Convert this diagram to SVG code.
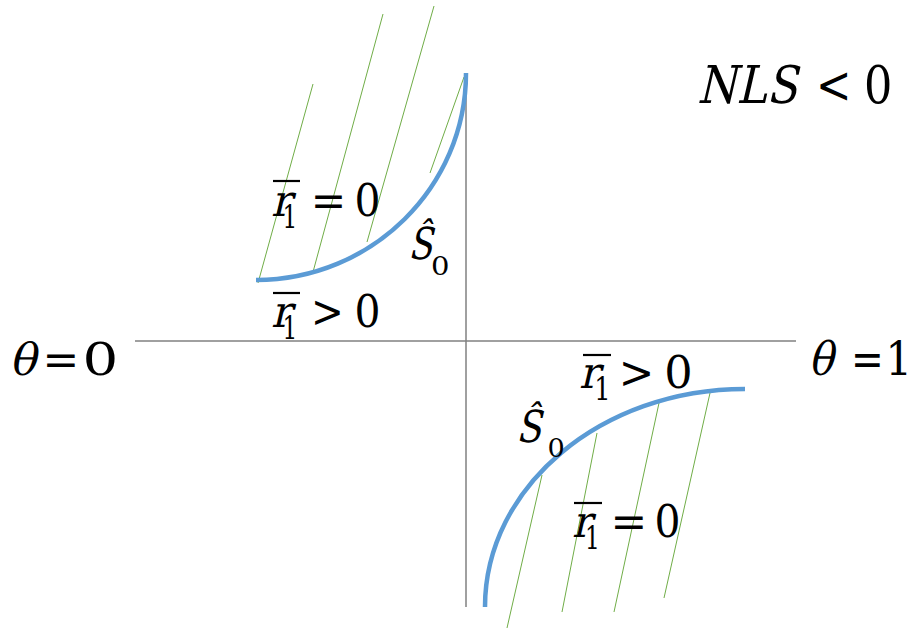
<svg xmlns="http://www.w3.org/2000/svg" width="913" height="630" viewBox="0 0 913 630">
<style>
.axis{stroke:#808080;stroke-width:1.5;fill:none}
.hatch{stroke:#70AD47;stroke-width:1;fill:none}
.curve{stroke:#5B9BD5;stroke-width:4.5;fill:none;stroke-linecap:butt}
text{font-family:"DejaVu Serif","Liberation Serif",serif;fill:#000;font-weight:normal;font-style:normal}
.m{font-size:44px}
.big{font-size:52px}
.th{font-size:46px}
.sub{font-size:32px}
.sub2{font-size:26px}
.bar{stroke:#000;stroke-width:2.2}
</style>
<rect width="913" height="630" fill="#fff"/>
<g id="axes">
<line class="axis" x1="135" y1="341" x2="796" y2="341"/>
<line class="axis" x1="466" y1="75" x2="466" y2="607"/>
</g>
<g id="hatching">
<line class="hatch" x1="313" y1="84" x2="258" y2="283"/>
<line class="hatch" x1="383" y1="14" x2="313" y2="272"/>
<line class="hatch" x1="434" y1="6" x2="367" y2="242"/>
<line class="hatch" x1="464" y1="77" x2="430" y2="173"/>
<line class="hatch" x1="542" y1="475" x2="507" y2="628"/>
<line class="hatch" x1="597" y1="433" x2="562" y2="612"/>
<line class="hatch" x1="659" y1="403" x2="614" y2="612"/>
<line class="hatch" x1="710" y1="393" x2="664" y2="598"/>
</g>
<g id="curves">
<path id="S0-upper" class="curve" d="M256,280 C372,280 466,187 466,73"/>
<path id="S0-lower" class="curve" d="M485,607 C485,487 601,389 745,389"/>
</g>
<g id="label-NLS">
<text class="big" transform="translate(697,103) skewX(-13)" textLength="100" lengthAdjust="spacingAndGlyphs">NLS</text>
<text class="big" x="816" y="103" textLength="35.5" lengthAdjust="spacingAndGlyphs">&lt;</text>
<text class="big" x="864" y="103" textLength="28.4" lengthAdjust="spacingAndGlyphs">0</text>
</g>
<g id="label-theta0">
<text class="m" transform="translate(9,375) skewX(-13)" textLength="27" lengthAdjust="spacingAndGlyphs">θ</text>
<text class="m" x="42.6" y="375" textLength="36.8" lengthAdjust="spacingAndGlyphs">=</text>
<text class="m" x="82.6" y="375" textLength="35.8" lengthAdjust="spacingAndGlyphs">0</text>
</g>
<g id="label-theta1">
<text class="th" transform="translate(808,375) skewX(-13)" textLength="25" lengthAdjust="spacingAndGlyphs">θ</text>
<text class="th" x="851" y="375" textLength="32.8" lengthAdjust="spacingAndGlyphs">=</text>
<text class="th" x="885.4" y="375" textLength="26.6" lengthAdjust="spacingAndGlyphs">1</text>
</g>
<g id="label-r1-eq0-upper">
<line class="bar" x1="273" y1="181" x2="300" y2="181"/>
<text class="m" transform="translate(271,216) skewX(-13)" textLength="20" lengthAdjust="spacingAndGlyphs">r</text>
<text class="sub" x="282.4" y="228" textLength="14.8" lengthAdjust="spacingAndGlyphs">1</text>
<text class="m" x="310.8" y="216" textLength="35.5" lengthAdjust="spacingAndGlyphs">=</text>
<text class="m" x="354.5" y="216" textLength="26" lengthAdjust="spacingAndGlyphs">0</text>
</g>
<g id="label-r1-gt0-upper">
<line class="bar" x1="273" y1="293" x2="300" y2="293"/>
<text class="m" transform="translate(271,327) skewX(-13)" textLength="20" lengthAdjust="spacingAndGlyphs">r</text>
<text class="sub" x="282.4" y="339" textLength="14.8" lengthAdjust="spacingAndGlyphs">1</text>
<text class="m" x="311" y="327" textLength="32.8" lengthAdjust="spacingAndGlyphs">&gt;</text>
<text class="m" x="354.5" y="327" textLength="26" lengthAdjust="spacingAndGlyphs">0</text>
</g>
<g id="label-S0-upper">
<text class="m" transform="translate(408,259) skewX(-13)" font-size="45" textLength="24" lengthAdjust="spacingAndGlyphs">Ŝ</text>
<text class="sub2" x="431" y="275" textLength="18.5" lengthAdjust="spacingAndGlyphs">0</text>
</g>
<g id="label-S0-lower">
<text class="m" transform="translate(516,442) skewX(-13)" font-size="45" textLength="25" lengthAdjust="spacingAndGlyphs">Ŝ</text>
<text class="sub2" x="547.4" y="457" textLength="17.3" lengthAdjust="spacingAndGlyphs">0</text>
</g>
<g id="label-r1-gt0-lower">
<line class="bar" x1="583" y1="355" x2="611" y2="355"/>
<text class="m" transform="translate(579,388) skewX(-13)" textLength="20" lengthAdjust="spacingAndGlyphs">r</text>
<text class="sub" x="594.2" y="400" textLength="16.3" lengthAdjust="spacingAndGlyphs">1</text>
<text class="m" x="618.8" y="388" textLength="35.5" lengthAdjust="spacingAndGlyphs">&gt;</text>
<text class="m" x="664.3" y="388" textLength="28.4" lengthAdjust="spacingAndGlyphs">0</text>
</g>
<g id="label-r1-eq0-lower">
<line class="bar" x1="574" y1="503" x2="602" y2="503"/>
<text class="m" transform="translate(572,537) skewX(-13)" textLength="19" lengthAdjust="spacingAndGlyphs">r</text>
<text class="sub" x="585" y="549" textLength="14.8" lengthAdjust="spacingAndGlyphs">1</text>
<text class="m" x="610.6" y="537" textLength="36.8" lengthAdjust="spacingAndGlyphs">=</text>
<text class="m" x="654.5" y="537" textLength="26" lengthAdjust="spacingAndGlyphs">0</text>
</g>
</svg>
